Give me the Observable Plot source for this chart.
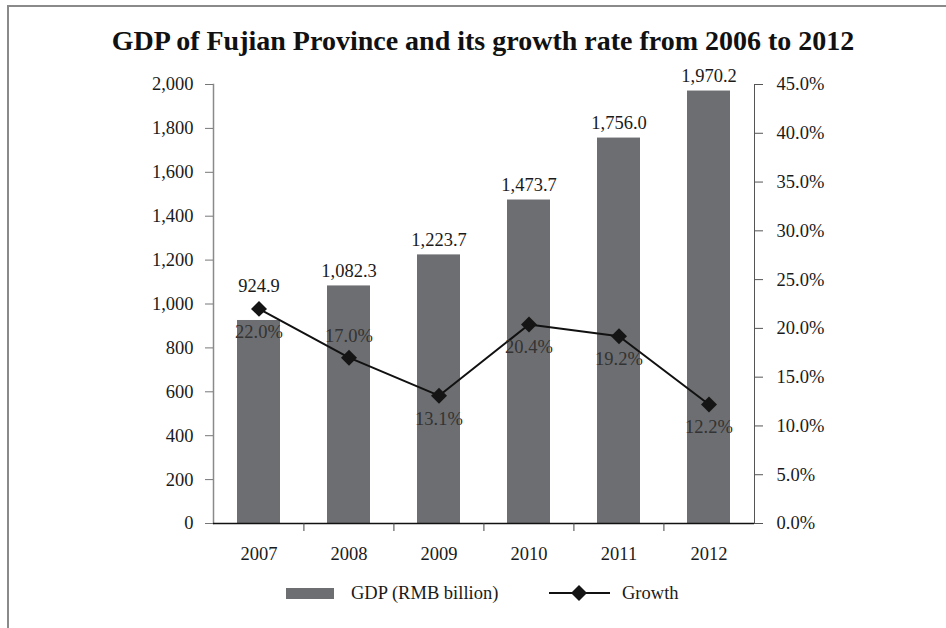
<!DOCTYPE html>
<html><head><meta charset="utf-8">
<script src="https://cdn.jsdelivr.net/npm/d3@7"></script>
<script src="https://cdn.jsdelivr.net/npm/@observablehq/plot@0.6"></script>
<style>
body{margin:0;background:#fff;}
#wrap{position:relative;width:946px;height:628px;overflow:hidden;font-family:"Liberation Serif","Times New Roman",serif;color:#1a1a1a;}
#border{position:absolute;left:7px;top:5px;width:960px;height:640px;border-top:2px solid #8a8a8a;border-left:2px solid #8a8a8a;}
#title{position:absolute;top:25px;left:0;width:966px;text-align:center;font-weight:bold;font-size:28px;line-height:32px;color:#111;}
#chart{position:absolute;left:0;top:64px;}
.lg{position:absolute;font-size:18.5px;line-height:22px;top:582px;white-space:nowrap;}
</style>
</head><body>
<div id="wrap">
  <div id="border"></div>
  <div id="title">GDP of Fujian Province and its growth rate from 2006 to 2012</div>
  <div id="chart"></div>
  <div id="legend"></div>
</div>
<script>
// ---- data ----
const years = ["2007", "2008", "2009", "2010", "2011", "2012"];
const gdp = [924.9, 1082.3, 1223.7, 1473.7, 1756.0, 1970.2];
const growth = [22.0, 17.0, 13.1, 20.4, 19.2, 12.2];
const leftTicks = [0, 200, 400, 600, 800, 1000, 1200, 1400, 1600, 1800, 2000];
const rightTicks = [0, 5, 10, 15, 20, 25, 30, 35, 40, 45];
const seriesNames = ["GDP (RMB billion)", "Growth"];

// ---- build ----
const data = years.map((y, i) => ({year: y, gdp: gdp[i], growth: growth[i]}));
const GMAX = 45, YMAX = 2000;
const gEq = d => d.growth / GMAX * YMAX;
const nearDiamond = d => gEq(d) > d.gdp - 60 && gEq(d) < d.gdp + 150;
const growthLabelAbove = new Set(["2008"]);

const W = 946, H = 510, ML = 213, MR = 946 - 754, MT = 20, MB = 51;
const step = (W - ML - MR) / years.length;
const barColor = "#6d6e71";

const chart = Plot.plot({
  width: W, height: H,
  marginLeft: ML, marginRight: MR, marginTop: MT, marginBottom: MB,
  style: {fontFamily: "'Liberation Serif','Times New Roman',serif", fontSize: "18.5px", color: "#1a1a1a", background: "transparent"},
  x: {domain: years, paddingInner: 0.52, paddingOuter: 0.26, label: null},
  y: {domain: [0, YMAX], label: null},
  marks: [
    Plot.barY(data, {x: "year", y: "gdp", fill: barColor}),
    Plot.frame({anchor: "left", stroke: "#8a8a8a", strokeWidth: 1.5}),
    Plot.frame({anchor: "right", stroke: "#555", strokeWidth: 1}),
    Plot.ruleY([0], {stroke: "#111", strokeWidth: 1.5}),
    Plot.axisY(leftTicks, {anchor: "left", tickSize: 8, tickPadding: 12, stroke: "#777", tickFormat: d3.format(","), label: null}),
    Plot.axisY(rightTicks.map(p => p / GMAX * YMAX), {anchor: "right", tickSize: 8, tickPadding: 14, stroke: "#555",
      tickFormat: v => (v * GMAX / YMAX).toFixed(1) + "%", label: null}),
    Plot.axisX(years.slice(1), {anchor: "bottom", tickSize: 8, dx: -step / 2, stroke: "#444", tickFormat: () => "", label: null}),
    Plot.axisX(years, {anchor: "bottom", tickSize: 0, tickPadding: 23, label: null}),
    Plot.line(data, {x: "year", y: gEq, stroke: "#111", strokeWidth: 2}),
    Plot.dot(data, {x: "year", y: gEq, symbol: "diamond2", r: 7.2, fill: "#151515", stroke: "none"}),
    Plot.text(data, {filter: d => !nearDiamond(d), x: "year", y: "gdp", dy: -15, text: d => d3.format(",.1f")(d.gdp), fill: "#1a1a1a"}),
    Plot.text(data, {filter: nearDiamond, x: "year", y: gEq, dy: -23, text: d => d3.format(",.1f")(d.gdp), fill: "#1a1a1a"}),
    Plot.text(data, {filter: d => !growthLabelAbove.has(d.year), x: "year", y: gEq, dy: 23, text: d => d.growth.toFixed(1) + "%", fill: "#333"}),
    Plot.text(data, {filter: d => growthLabelAbove.has(d.year), x: "year", y: gEq, dy: -22, text: d => d.growth.toFixed(1) + "%", fill: "#333"})
  ]
});
document.getElementById("chart").appendChild(chart);

// ---- legend (HTML below the chart) ----
const lg = document.getElementById("legend");
lg.innerHTML = `
  <div style="position:absolute;left:286px;top:588px;width:48px;height:11px;background:${barColor}"></div>
  <div class="lg" style="left:351px">${seriesNames[0]}</div>
  <svg style="position:absolute;left:549px;top:584px" width="62" height="18">
    <line x1="0" y1="9" x2="61" y2="9" stroke="#111" stroke-width="2"/>
    <path d="M30,1 L38,9 L30,17 L22,9 Z" fill="#151515"/>
  </svg>
  <div class="lg" style="left:622px">${seriesNames[1]}</div>`;
</script>
</body></html>
